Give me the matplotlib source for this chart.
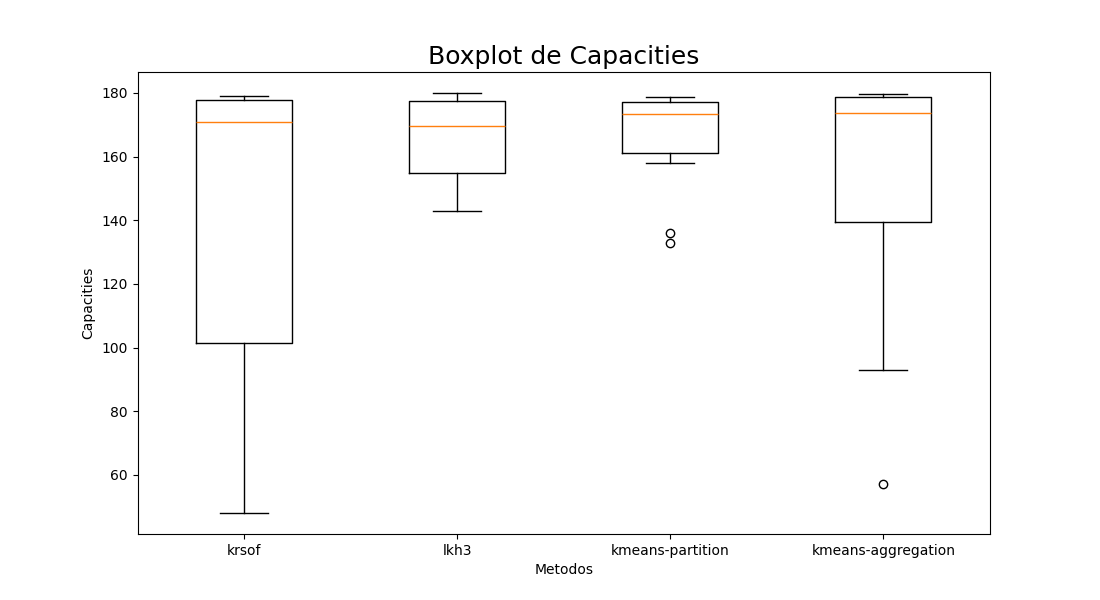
import matplotlib
matplotlib.use("Agg")
import matplotlib.pyplot as plt

# valores
metodos = ["krsof", "lkh3", "kmeans-partition", "kmeans-aggregation"]
whislo = [48.0, 142.9, 158.0, 93.0]
q1 = [101.5, 154.9, 161.1, 139.5]
med = [170.9, 169.6, 173.4, 173.7]
q3 = [177.9, 177.6, 177.2, 178.9]
whishi = [179.1, 180.0, 178.9, 179.8]
fliers = [[], [], [136.0, 132.9], [57.2]]

stats = []
for i, m in enumerate(metodos):
    stats.append({
        "label": m,
        "whislo": whislo[i],
        "q1": q1[i],
        "med": med[i],
        "q3": q3[i],
        "whishi": whishi[i],
        "fliers": fliers[i],
    })

fig, ax = plt.subplots(figsize=(11, 6), dpi=100)
ax.bxp(stats)
ax.set_title("Boxplot de Capacities", fontsize=18)
ax.set_xlabel("Metodos")
ax.set_ylabel("Capacities")

plt.savefig("out.png")
